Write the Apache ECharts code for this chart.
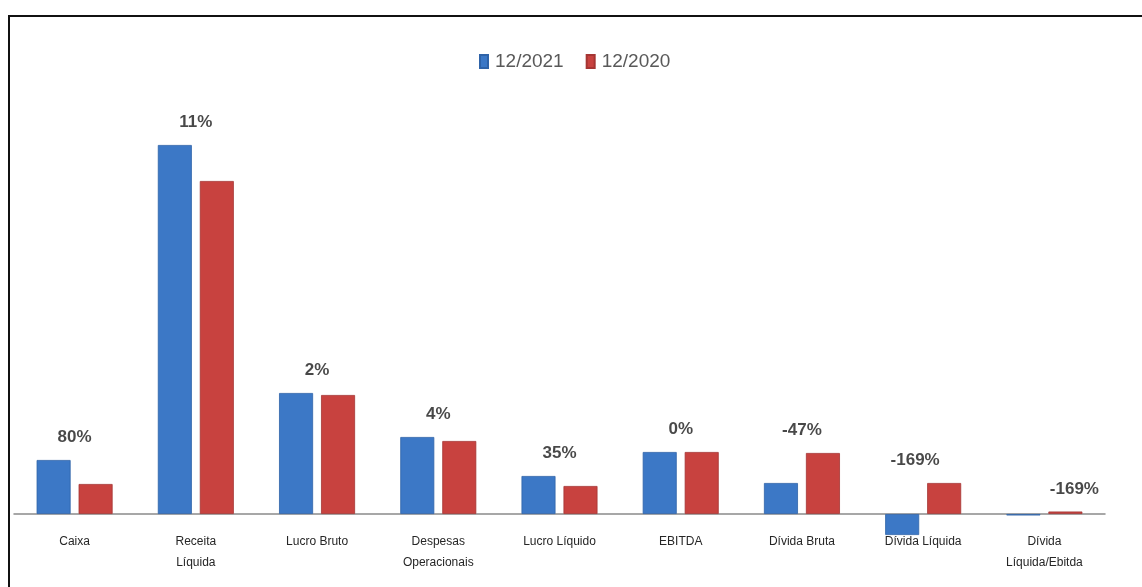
<!DOCTYPE html>
<html>
<head>
<meta charset="utf-8">
<script src="https://cdn.jsdelivr.net/npm/echarts@6/dist/echarts.min.js"></script>
<style>
  html, body { margin: 0; padding: 0; background: #ffffff; }
  #frame { position: absolute; left: 8px; top: 15px; width: 1200px; height: 700px;
           border-left: 2px solid #111; border-top: 2px solid #111; box-sizing: border-box; }
  #chart { position: absolute; left: 0; top: 0; width: 1142px; height: 587px; }
</style>
</head>
<body>
<div id="frame"></div>
<div id="chart"></div>
<script>
// ---- data ----
const categories = ['Caixa', 'Receita\nLíquida', 'Lucro Bruto', 'Despesas\nOperacionais',
  'Lucro Líquido', 'EBITDA', 'Dívida Bruta', 'Dívida Líquida', 'Dívida\nLíquida/Ebitda'];
const values2021 = [54, 369, 121, 77, 38, 62, 31, -21, -1.5];
const values2020 = [30, 333, 119, 73, 28, 62, 61, 31, 2.5];
const changeLabels = ['80%', '11%', '2%', '4%', '35%', '0%', '-47%', '-169%', '-169%'];
const seriesNames = ['12/2021', '12/2020'];

// ---- styling ----
const labelShift = [0, 0, 0, 0, 0, 0, 0, -8, 30];
const labelAnchor = values2021.map((v, i) => Math.max(v, values2020[i]));

const chart = echarts.init(document.getElementById('chart'), null, { renderer: 'canvas' });
chart.setOption({
  backgroundColor: 'transparent',
  animation: false,
  legend: {
    data: seriesNames,
    left: 474, top: 47,
    itemWidth: 8, itemHeight: 13, itemGap: 22,
    icon: 'rect',
    textStyle: { fontFamily: 'Liberation Sans', fontSize: 19, color: '#595959', padding: [0, 0, 0, 2] }
  },
  grid: { left: 14, right: 37, top: 114, bottom: 43, containLabel: false, outerBoundsMode: 'none' },
  xAxis: {
    type: 'category',
    data: categories,
    axisLine: { onZero: true, lineStyle: { color: '#8a8a8a', width: 1.5 } },
    axisTick: { show: false },
    axisLabel: {
      interval: 0, margin: -13,
      fontFamily: 'Liberation Sans', fontSize: 12, lineHeight: 21, color: '#262626'
    }
  },
  yAxis: { type: 'value', min: -30, max: 400, show: false, splitLine: { show: false } },
  series: [
    {
      name: seriesNames[0], type: 'bar', data: values2021,
      barWidth: 34, barGap: '23.5%',
      itemStyle: { color: '#3C78C6', borderColor: '#2f63a8', borderWidth: 0.8 }
    },
    {
      name: seriesNames[1], type: 'bar', data: values2020,
      barWidth: 34,
      itemStyle: { color: '#C8423F', borderColor: '#a53533', borderWidth: 0.8 }
    },
    {
      name: 'variação', type: 'scatter', silent: true, symbolSize: 0,
      data: labelAnchor.map((v, i) => ({
        value: v,
        label: { offset: [labelShift[i], 0] }
      })),
      label: {
        show: true, position: 'top', distance: 14,
        formatter: p => changeLabels[p.dataIndex],
        fontFamily: 'Liberation Sans', fontWeight: 'bold', fontSize: 17, color: '#1a1a1a'
      },
      tooltip: { show: false }
    }
  ]
});
</script>
</body>
</html>
